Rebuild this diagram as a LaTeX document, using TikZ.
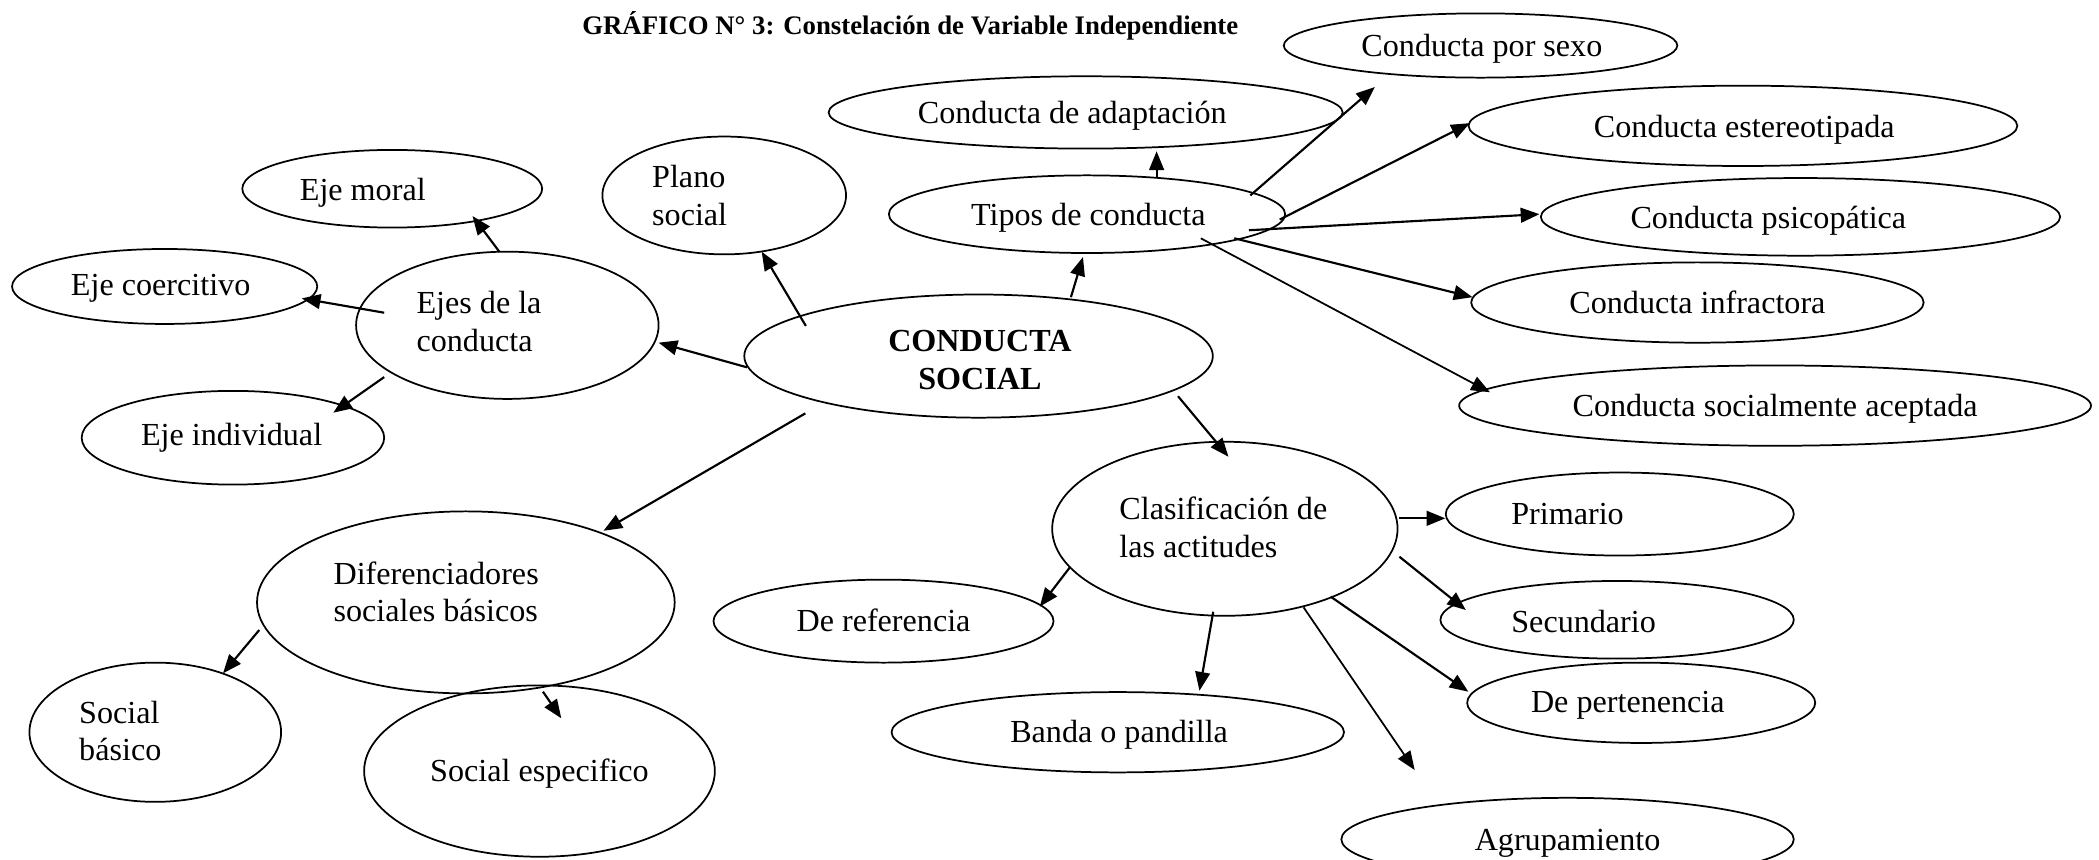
\documentclass[tikz,border=0pt]{standalone}
\usepackage{fontspec}
\setmainfont{Liberation Serif}
\usetikzlibrary{arrows.meta,calc,shapes.geometric}
\begin{document}
\begin{tikzpicture}[x=1pt,y=1pt,
 ell/.style={draw,ellipse,line width=1.3pt,inner sep=0pt},
 e/.style 2 args={ell,minimum width=#1pt,minimum height=#2pt},
 base/.style={inner sep=0pt,font=\fontsize{24}{28}\selectfont},
 lbl/.style={base,text height=17pt,text depth=5pt,yshift=-2.5pt},
 mlbl/.style={base,align=left,anchor=west,yshift=-1pt},
 arr/.style={line width=1.6pt,-{Triangle[length=14pt,width=11pt]}},
 tarr/.style={arr,line width=1.3pt}]
\useasboundingbox (0,0) rectangle (1568,-641.7);
\clip (0,0) rectangle (1568,-641.7);

% title
\node[inner sep=0pt,font=\bfseries\fontsize{20}{24}\selectfont] (title) at (680,-19) {GRÁFICO N° 3: Constelación de Variable Independiente};

% ellipses
\node[e={294}{48}]  (sexo)    at (1106,-34)  {};
\node[e={384}{54}]  (adapt)   at (811,-84)   {};
\node[e={410}{60}]  (estereo) at (1302,-94)  {};
\node[e={182}{88}]  (plano)   at (541,-146)  {};
\node[e={224}{58}]  (moral)   at (293,-141)  {};
\node[e={296}{58}]  (tipos)   at (812,-160)  {};
\node[e={388}{58}]  (psico)   at (1345,-162) {};
\node[e={228}{56}]  (coerc)   at (123,-214)  {};
\node[e={226}{110}] (ejes)    at (379,-243)  {};
\node[e={350}{92}]  (cs)      at (731,-266)  {};
\node[e={338}{60}]  (infra)   at (1268,-226) {};
\node[e={472}{60}]  (acept)   at (1326,-303) {};
\node[e={226}{70}]  (indiv)   at (174,-327)  {};
\node[e={258}{130}] (clas)    at (915,-395)  {};
\node[e={260}{62}]  (prim)    at (1210,-384) {};
\node[e={312}{136}] (dif)     at (348,-450)  {};
\node[e={254}{62}]  (ref)     at (660,-464)  {};
\node[e={264}{58}]  (sec)     at (1208,-463) {};
\node[e={260}{60}]  (pert)    at (1226,-525) {};
\node[e={338}{60}]  (banda)   at (835,-547)  {};
\node[e={188}{104}] (sbas)    at (116,-547)  {};
\node[e={262}{128}] (sesp)    at (403,-576)  {};
\node[e={338}{62}]  (agru)    at (1171,-627) {};

% texts
\node[lbl] (tsexo) at (1107,-34) {Conducta por sexo};
\node[lbl] (tadapt) at (801,-84) {Conducta de adaptación};
\node[lbl] (testereo) at (1303,-94) {Conducta estereotipada};
\node[mlbl] (tplano) at (487,-145) {Plano\\social};
\node[lbl] (tmoral) at (271,-141) {Eje moral};
\node[lbl] (ttipos) at (813,-160) {Tipos de conducta};
\node[lbl] (tpsico) at (1321,-162) {Conducta psicopática};
\node[lbl] (tcoerc) at (120,-212) {Eje coercitivo};
\node[mlbl] (tejes) at (311,-239) {Ejes de la\\conducta};
\node[base,align=center,font=\bfseries\fontsize{24}{28}\selectfont] (tcs) at (732,-269) {CONDUCTA\\SOCIAL};
\node[lbl] (tinfra) at (1268,-226) {Conducta infractora};
\node[lbl] (tacept) at (1326,-303) {Conducta socialmente aceptada};
\node[lbl] (tindiv) at (173,-324) {Eje individual};
\node[mlbl] (tclas) at (836,-393) {Clasificación de\\las actitudes};
\node[lbl] (tprim) at (1171,-383) {Primario};
\node[mlbl] (tdif) at (249,-441) {Diferenciadores\\sociales básicos};
\node[lbl] (tref) at (660,-463) {De referencia};
\node[lbl] (tsec) at (1183,-464) {Secundario};
\node[lbl] (tpert) at (1216,-524) {De pertenencia};
\node[lbl] (tbanda) at (836,-546) {Banda o pandilla};
\node[mlbl] (tsbas) at (59,-545) {Social\\básico};
\node[lbl] (tsesp) at (403,-575) {Social especifico};
\node[lbl] (tagru) at (1171,-627) {Agrupamiento};

% connectors
\draw[arr] ($(tipos)+(52,28)$) -- ($(adapt)+(53,-29)$);
\draw[arr] ($(tipos)+(122,14)$) -- ($(sexo)+(-79,-31)$);
\draw[arr] ($(tipos)+(144,-4)$) -- ($(estereo)+(-204,2)$);
\draw[arr] ($(tipos)+(121,-12)$) -- ($(psico)+(-195,2)$);
\draw[arr] ($(tipos)+(110,-18)$) -- ($(infra)+(-168,4)$);
\draw[tarr] ($(tipos)+(85,-18)$) -- ($(acept)+(-213,10)$);

\draw[arr] ($(cs)+(69,44)$) -- ($(tipos)+(-3,-32)$);
\draw[arr] ($(cs)+(-129,22.5)$) -- ($(plano)+(28,-42)$);
\draw[arr] ($(cs)+(-173,-8.4)$) -- ($(ejes)+(113,-13)$);
\draw[arr] ($(cs)+(-129.4,-42.8)$) -- ($(dif)+(102.8,53.5)$);
\draw[arr] ($(cs)+(149,-30)$) -- ($(clas)+(2.7,53.8)$);

\draw[arr] ($(ejes)+(-6,55)$) -- ($(moral)+(60,-20.4)$);
\draw[arr] ($(ejes)+(-92,9.4)$) -- ($(coerc)+(102.4,-8.9)$);
\draw[arr] ($(ejes)+(-92,-38.7)$) -- ($(indiv)+(75,18.7)$);

\draw[arr] ($(dif)+(-154.3,-20.6)$) -- ($(sbas)+(50.6,44)$);
\draw[arr] ($(dif)+(57.6,-66.7)$) -- ($(sesp)+(16.3,39.4)$);

\draw[arr] ($(clas)+(130.4,7.8)$) -- ($(prim)+(-130.3,-3.2)$);
\draw[arr] ($(clas)+(130.4,-20.9)$) -- ($(sec)+(-113,7.3)$);
\draw[arr] ($(clas)+(79,-50.7)$) -- ($(pert)+(-129.1,8.3)$);
\draw[tarr] ($(clas)+(58.8,-58.7)$) -- ($(agru)+(-114.2,51.8)$);
\draw[arr] ($(clas)+(-8.7,-62)$) -- ($(banda)+(61,31)$);
\draw[arr] ($(clas)+(-115.4,-28.3)$) -- ($(ref)+(116.7,10.8)$);
\end{tikzpicture}
\end{document}
